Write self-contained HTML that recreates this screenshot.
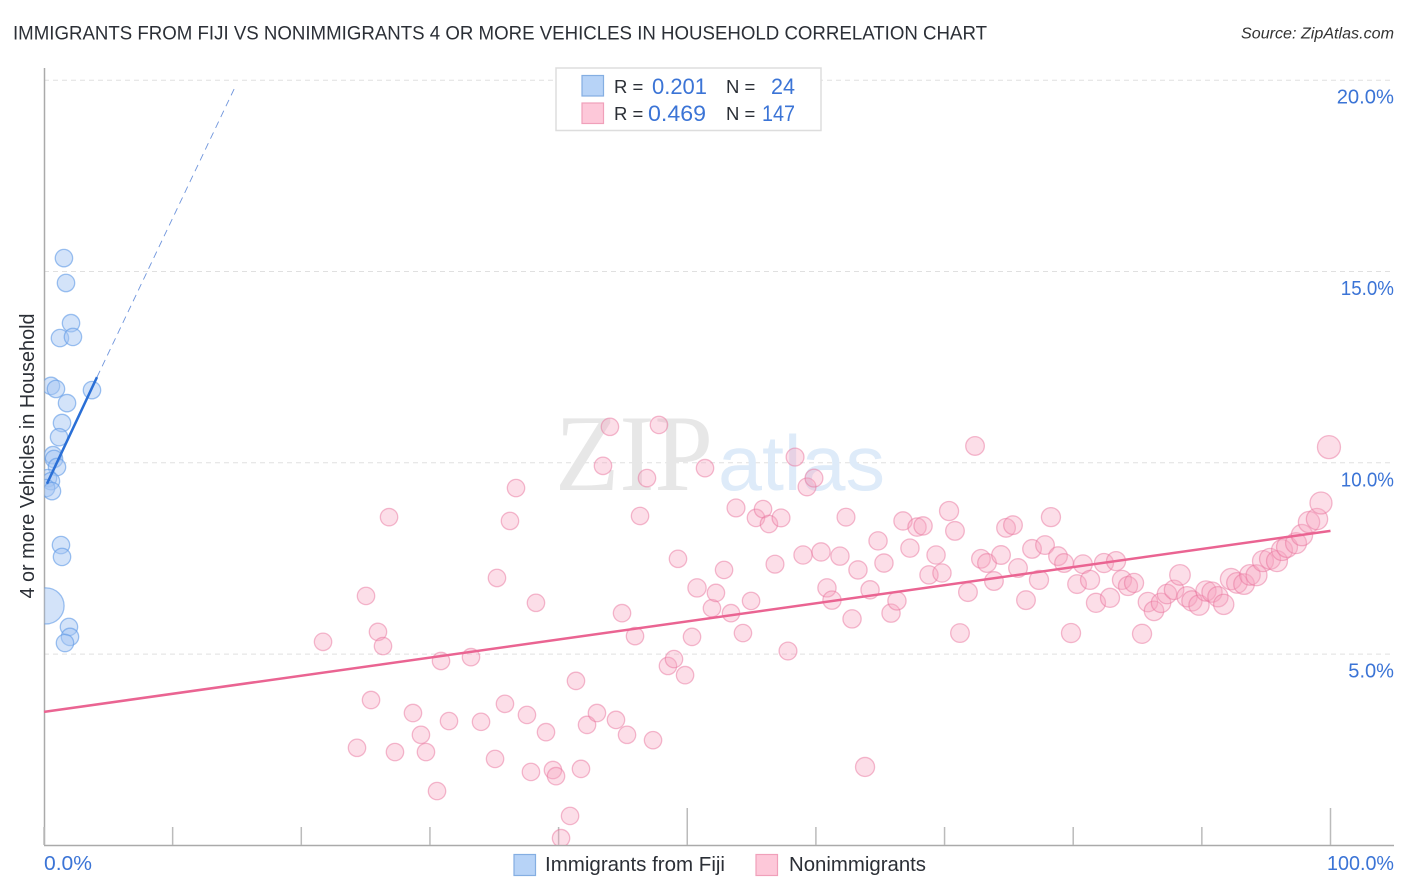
<!DOCTYPE html>
<html lang="en">
<head>
<meta charset="utf-8">
<title>Immigrants from Fiji vs Nonimmigrants correlation chart</title>
<style>
  html, body { margin: 0; padding: 0; background: #ffffff; }
  svg { display: block; font-family: "Liberation Sans", sans-serif; }
</style>
</head>
<body>
<svg id="chart" xmlns="http://www.w3.org/2000/svg" width="1406" height="892" viewBox="0 0 1406 892">
  <defs>
    <clipPath id="plot-clip"><rect x="44.5" y="0" width="1361.5" height="845"></rect></clipPath>
  </defs>
  <rect x="0" y="0" width="1406" height="892" fill="#ffffff"></rect>
  <text x="13" y="39.5" font-size="19.5" fill="#2b2f36" textLength="974" lengthAdjust="spacingAndGlyphs">IMMIGRANTS FROM FIJI VS NONIMMIGRANTS 4 OR MORE VEHICLES IN HOUSEHOLD CORRELATION CHART</text>
  <text x="1394" y="38.5" font-size="15.5" font-style="italic" fill="#333333" text-anchor="end" textLength="153" lengthAdjust="spacingAndGlyphs">Source: ZipAtlas.com</text>
  <g id="grid-layer"></g>
  <g>
    <text x="555" y="490" font-family="'Liberation Serif', serif" font-size="109" fill="#e7e7e7" textLength="158" lengthAdjust="spacingAndGlyphs">ZIP</text>
    <text x="718" y="490" font-size="78" fill="#deebf9" textLength="167" lengthAdjust="spacingAndGlyphs">atlas</text>
  </g>
  <g id="axis-layer"></g>
  <g id="marks-layer" clip-path="url(#plot-clip)"></g>
  <g id="trend-layer"></g>
  <text transform="translate(34,456) rotate(-90)" font-size="20" fill="#2b2f36" text-anchor="middle" textLength="285" lengthAdjust="spacingAndGlyphs">4 or more Vehicles in Household</text>
  <g id="tick-label-layer"></g>

  <g>
    <rect x="556" y="68" width="265" height="62.5" fill="#ffffff" stroke="#dddddd" stroke-width="1.5"></rect>
    <rect x="582" y="75.5" width="21.5" height="20.5" fill="#b7d3f7" stroke="#84aee2" stroke-width="1.2"></rect>
    <rect x="582" y="103" width="21.5" height="20.5" fill="#fdc8d9" stroke="#f0a0ba" stroke-width="1.2"></rect>
    <text x="614" y="93" font-size="18.5" fill="#2b2f36">R =</text>
    <text x="652" y="94" font-size="22" fill="#3b74d6" textLength="55" lengthAdjust="spacingAndGlyphs">0.201</text>
    <text x="726" y="93" font-size="18.5" fill="#2b2f36">N =</text>
    <text x="771" y="94" font-size="22" fill="#3b74d6" textLength="24" lengthAdjust="spacingAndGlyphs">24</text>
    <text x="614" y="120" font-size="18.5" fill="#2b2f36">R =</text>
    <text x="648" y="121" font-size="22" fill="#3b74d6" textLength="58" lengthAdjust="spacingAndGlyphs">0.469</text>
    <text x="726" y="120" font-size="18.5" fill="#2b2f36">N =</text>
    <text x="762" y="121" font-size="22" fill="#3b74d6" textLength="33" lengthAdjust="spacingAndGlyphs">147</text>
  </g>

  <g>
    <g>
      <rect x="514" y="854.5" width="21.5" height="21" fill="#b7d3f7" stroke="#84aee2" stroke-width="1.2"></rect>
      <text x="545" y="871" font-size="20" fill="#2b2f36" textLength="180" lengthAdjust="spacingAndGlyphs">Immigrants from Fiji</text>
    </g>
    <g>
      <rect x="756" y="854.5" width="21.5" height="21" fill="#fdc8d9" stroke="#f0a0ba" stroke-width="1.2"></rect>
      <text x="789" y="871" font-size="20" fill="#2b2f36" textLength="137" lengthAdjust="spacingAndGlyphs">Nonimmigrants</text>
    </g>
  </g>
</svg>

<script>
// ---- chart data (percent values) ----
var xTicks = [0, 10, 20, 30, 40, 50, 60, 70, 80, 90, 100];
var xMajorTicks = [50, 100];
var xTickLabels = ["0.0%", "100.0%"];
var yTicks = [5, 10, 15, 20];
var yTickLabels = ["5.0%", "10.0%", "15.0%", "20.0%"];

var fijiX = [1.55, 1.71, 2.10, 1.24, 2.25, 0.54, 0.93, 3.73, 1.79, 1.40, 1.17, 0.70, 0.78, 1.01, 0.31, 0.54, 0.16, 0.62, 1.32, 1.40, 0.16, 1.94, 2.02, 1.63];
var fijiY = [15.35, 14.70, 13.65, 13.26, 13.29, 12.01, 11.93, 11.90, 11.56, 11.04, 10.67, 10.20, 10.10, 9.89, 9.60, 9.52, 9.34, 9.26, 7.85, 7.54, 6.26, 5.71, 5.45, 5.29];
var fijiPopulation = [1, 1, 1, 1, 1, 1, 1, 1, 1, 1, 1, 1, 1, 1, 1, 1, 1, 1, 1, 1, 4.3, 1, 1, 1];

var nonimmigrantX = [
  21.69, 25.03, 25.96, 26.35, 26.82, 25.42, 24.33, 27.28, 28.68, 29.30,
  29.69, 31.48, 30.86, 33.19, 30.55, 33.97, 35.06, 35.83, 35.21, 36.22,
  36.69, 38.24, 37.54, 39.02, 37.85, 39.56, 39.80, 41.74, 41.35, 42.21,
  42.98, 44.46, 45.32, 47.34, 40.89, 40.19, 43.45, 43.99, 46.33, 46.87,
  47.80, 44.93, 45.94, 49.28, 50.76, 51.38, 48.50, 48.97, 49.83, 50.37,
  51.92, 52.23, 52.86, 53.40, 54.33, 54.96, 53.79, 55.34, 55.89, 56.35,
  57.29, 56.82, 57.83, 58.38, 59.31, 59.85, 59.00, 60.40, 61.87, 60.86,
  61.25, 62.81, 62.34, 63.27, 64.21, 63.82, 64.83, 65.29, 65.84, 66.30,
  66.77, 67.31, 67.86, 68.33, 68.79, 69.34, 69.80, 70.35, 70.81, 71.20,
  71.82, 72.37, 72.83, 73.30, 73.84, 74.39, 74.78, 75.32, 75.71, 76.33,
  76.80, 77.34, 77.81, 78.27, 78.82, 79.29, 79.83, 80.30, 80.76, 81.31,
  81.77, 82.39, 82.86, 83.33, 83.79, 84.26, 84.73, 85.35, 85.81, 86.28,
  86.83, 87.29, 87.84, 88.30, 88.85, 89.23, 89.78, 90.32, 90.79, 91.25,
  91.70, 92.27, 92.73, 93.28, 93.74, 94.25, 94.75, 95.30,
  95.84, 96.23, 96.62, 97.32, 97.78, 98.33, 98.95, 99.26, 99.88
];
var nonimmigrantY = [
  5.32, 6.52, 5.58, 5.21, 8.58, 3.80, 2.55, 2.44, 3.46, 2.89,
  2.44, 3.25, 4.82, 4.92, 1.42, 3.23, 2.26, 3.70, 6.99, 8.48,
  9.34, 6.34, 3.41, 2.96, 1.92, 1.97, 1.81, 2.00, 4.30, 3.15,
  3.46, 3.28, 2.89, 2.75, 0.77, 0.19, 9.92, 10.94, 8.61, 9.60,
  10.99, 6.07, 5.47, 7.49, 6.73, 9.86, 4.69, 4.87, 4.45, 5.45,
  6.20, 6.60, 7.20, 6.07, 5.55, 6.39, 8.82, 8.56, 8.79, 8.40,
  8.56, 7.35, 5.08, 10.15, 9.37, 9.60, 7.59, 7.67, 7.56, 6.73,
  6.41, 5.92, 8.58, 7.20, 6.68, 2.05, 7.96, 7.38, 6.07, 6.39,
  8.48, 7.77, 8.32, 8.35, 7.07, 7.59, 7.12, 8.74, 8.22, 5.55,
  6.62, 10.44, 7.49, 7.38, 6.91, 7.59, 8.30, 8.37, 7.25, 6.41,
  7.75, 6.94, 7.85, 8.58, 7.56, 7.38, 5.55, 6.83, 7.35, 6.94,
  6.34, 7.38, 6.47, 7.43, 6.94, 6.78, 6.86, 5.53, 6.36, 6.13,
  6.34, 6.57, 6.68, 7.07, 6.50, 6.39, 6.28, 6.65, 6.62, 6.50,
  6.30, 6.96, 6.86, 6.83, 7.07, 7.06, 7.43, 7.49,
  7.43, 7.72, 7.80, 7.90, 8.11, 8.45, 8.53, 8.95, 10.41
];
var nonimmigrantPopulation = [
  1, 1, 1, 1, 1, 1, 1, 1, 1, 1,
  1, 1, 1, 1, 1, 1, 1, 1, 1, 1,
  1, 1, 1, 1, 1, 1, 1, 1, 1, 1,
  1, 1, 1, 1, 1, 1, 1, 1, 1, 1,
  1, 1, 1, 1, 1.1, 1, 1, 1, 1, 1,
  1, 1, 1, 1, 1, 1, 1.05, 1, 1, 1,
  1.05, 1.05, 1.05, 1.05, 1.05, 1.05, 1.1, 1.1, 1.1, 1.1,
  1.1, 1.1, 1.05, 1.1, 1.1, 1.2, 1.1, 1.1, 1.1, 1.1,
  1.1, 1.1, 1.1, 1.1, 1.1, 1.1, 1.1, 1.2, 1.15, 1.15,
  1.15, 1.15, 1.15, 1.15, 1.15, 1.15, 1.15, 1.15, 1.15, 1.15,
  1.15, 1.2, 1.15, 1.2, 1.15, 1.15, 1.2, 1.15, 1.15, 1.2,
  1.2, 1.2, 1.2, 1.2, 1.2, 1.2, 1.2, 1.2, 1.25, 1.25,
  1.25, 1.25, 1.25, 1.4, 1.35, 1.35, 1.35, 1.35, 1.35, 1.35,
  1.35, 1.5, 1.4, 1.4, 1.4, 1.45, 1.45, 1.45,
  1.45, 1.45, 1.45, 1.45, 1.5, 1.5, 1.5, 1.6, 1.75
];

var fijiTrendX = [0.23, 4.12];
var fijiTrendY = [9.45, 12.24];
var fijiProjectionX = [4.12, 14.92];
var fijiProjectionY = [12.24, 19.87];
var nonimmigrantTrendX = [0, 100];
var nonimmigrantTrendY = [3.49, 8.22];

// ---- axis functions ----
var SVG_NS = "http://www.w3.org/2000/svg";
function xScale(v) { return 44 + v * 12.865; }
function yScale(v) { return 845.4 - v * 38.26; }
function radius(pop) { return 8.7 * Math.sqrt(pop); }
function labelWidth(text) {
  // reference font draws a narrow "1"; estimate width from glyph classes
  var w = 0;
  for (var i = 0; i < text.length; i++) {
    var ch = text.charAt(i);
    w += ch === "1" ? 7.5 : ch === "." ? 5 : ch === "%" ? 17.5 : 11.6;
  }
  return w;
}
function make(tag, attrs, parent) {
  var el = document.createElementNS(SVG_NS, tag);
  for (var k in attrs) { el.setAttribute(k, attrs[k]); }
  parent.appendChild(el);
  return el;
}

var gridLayer = document.getElementById("grid-layer");
var axisLayer = document.getElementById("axis-layer");
var marksLayer = document.getElementById("marks-layer");
var trendLayer = document.getElementById("trend-layer");
var labelLayer = document.getElementById("tick-label-layer");

// gridlines and y labels
yTicks.forEach(function (v, i) {
  var line = make("line", { x1: 44, x2: 1394, y1: yScale(v), y2: yScale(v), stroke: "#e0e0e0", "stroke-width": 1, "stroke-dasharray": "5 4" }, gridLayer);
  
  
  var label = make("text", { x: 1394, y: yScale(v) + 23.5, "font-size": 20.5, fill: "#3b74d6", "text-anchor": "end", textLength: labelWidth(yTickLabels[i]), lengthAdjust: "spacingAndGlyphs" }, labelLayer);
  label.textContent = yTickLabels[i];
  
  
});

// axes
var yAxis = make("line", { x1: 44.5, x2: 44.5, y1: 68, y2: 845, stroke: "#aaaaaa", "stroke-width": 1.5 }, axisLayer);


var xAxis = make("line", { x1: 44, x2: 1394, y1: 845.5, y2: 845.5, stroke: "#aaaaaa", "stroke-width": 1.5 }, axisLayer);


xTicks.forEach(function (v) {
  var top = xMajorTicks.indexOf(v) >= 0 ? 808 : 827;
  var tick = make("line", { x1: xScale(v), x2: xScale(v), y1: top, y2: 845, stroke: "#bbbbbb", "stroke-width": 1.5 }, axisLayer);
  
  
});

// x labels
var xLabelMin = make("text", { x: 44, y: 870, "font-size": 20.5, fill: "#3b74d6", textLength: 48, lengthAdjust: "spacingAndGlyphs" }, labelLayer);
xLabelMin.textContent = xTickLabels[0];


var xLabelMax = make("text", { x: 1394, y: 870, "font-size": 20.5, fill: "#3b74d6", "text-anchor": "end", textLength: 67, lengthAdjust: "spacingAndGlyphs" }, labelLayer);
xLabelMax.textContent = xTickLabels[1];



// points
nonimmigrantX.forEach(function (v, i) {
  var c = make("circle", { cx: xScale(v), cy: yScale(nonimmigrantY[i]), r: radius(nonimmigrantPopulation[i]), fill: "#f6a3c0", "fill-opacity": 0.36, stroke: "#e8709a", "stroke-opacity": 0.48, "stroke-width": 1.3 }, marksLayer);
  
  
});
fijiX.forEach(function (v, i) {
  var c = make("circle", { cx: xScale(v), cy: yScale(fijiY[i]), r: radius(fijiPopulation[i]), fill: "#a3c5f3", "fill-opacity": 0.48, stroke: "#5f9ae6", "stroke-opacity": 0.6, "stroke-width": 1.3 }, marksLayer);
  
  
});

// trend lines
var fijiDash = make("line", { x1: xScale(fijiProjectionX[0]), y1: yScale(fijiProjectionY[0]), x2: xScale(fijiProjectionX[1]), y2: yScale(fijiProjectionY[1]), stroke: "#6f95dc", "stroke-width": 0.9, "stroke-dasharray": "7 5" }, trendLayer);


var fijiTrend = make("line", { x1: xScale(fijiTrendX[0]), y1: yScale(fijiTrendY[0]), x2: xScale(fijiTrendX[1]), y2: yScale(fijiTrendY[1]), stroke: "#2a6fd6", "stroke-width": 2.5 }, trendLayer);


var nonTrend = make("line", { x1: xScale(nonimmigrantTrendX[0]), y1: yScale(nonimmigrantTrendY[0]), x2: xScale(nonimmigrantTrendX[1]), y2: yScale(nonimmigrantTrendY[1]), stroke: "#ea6492", "stroke-width": 2.5 }, trendLayer);


</script>
</body>
</html>
